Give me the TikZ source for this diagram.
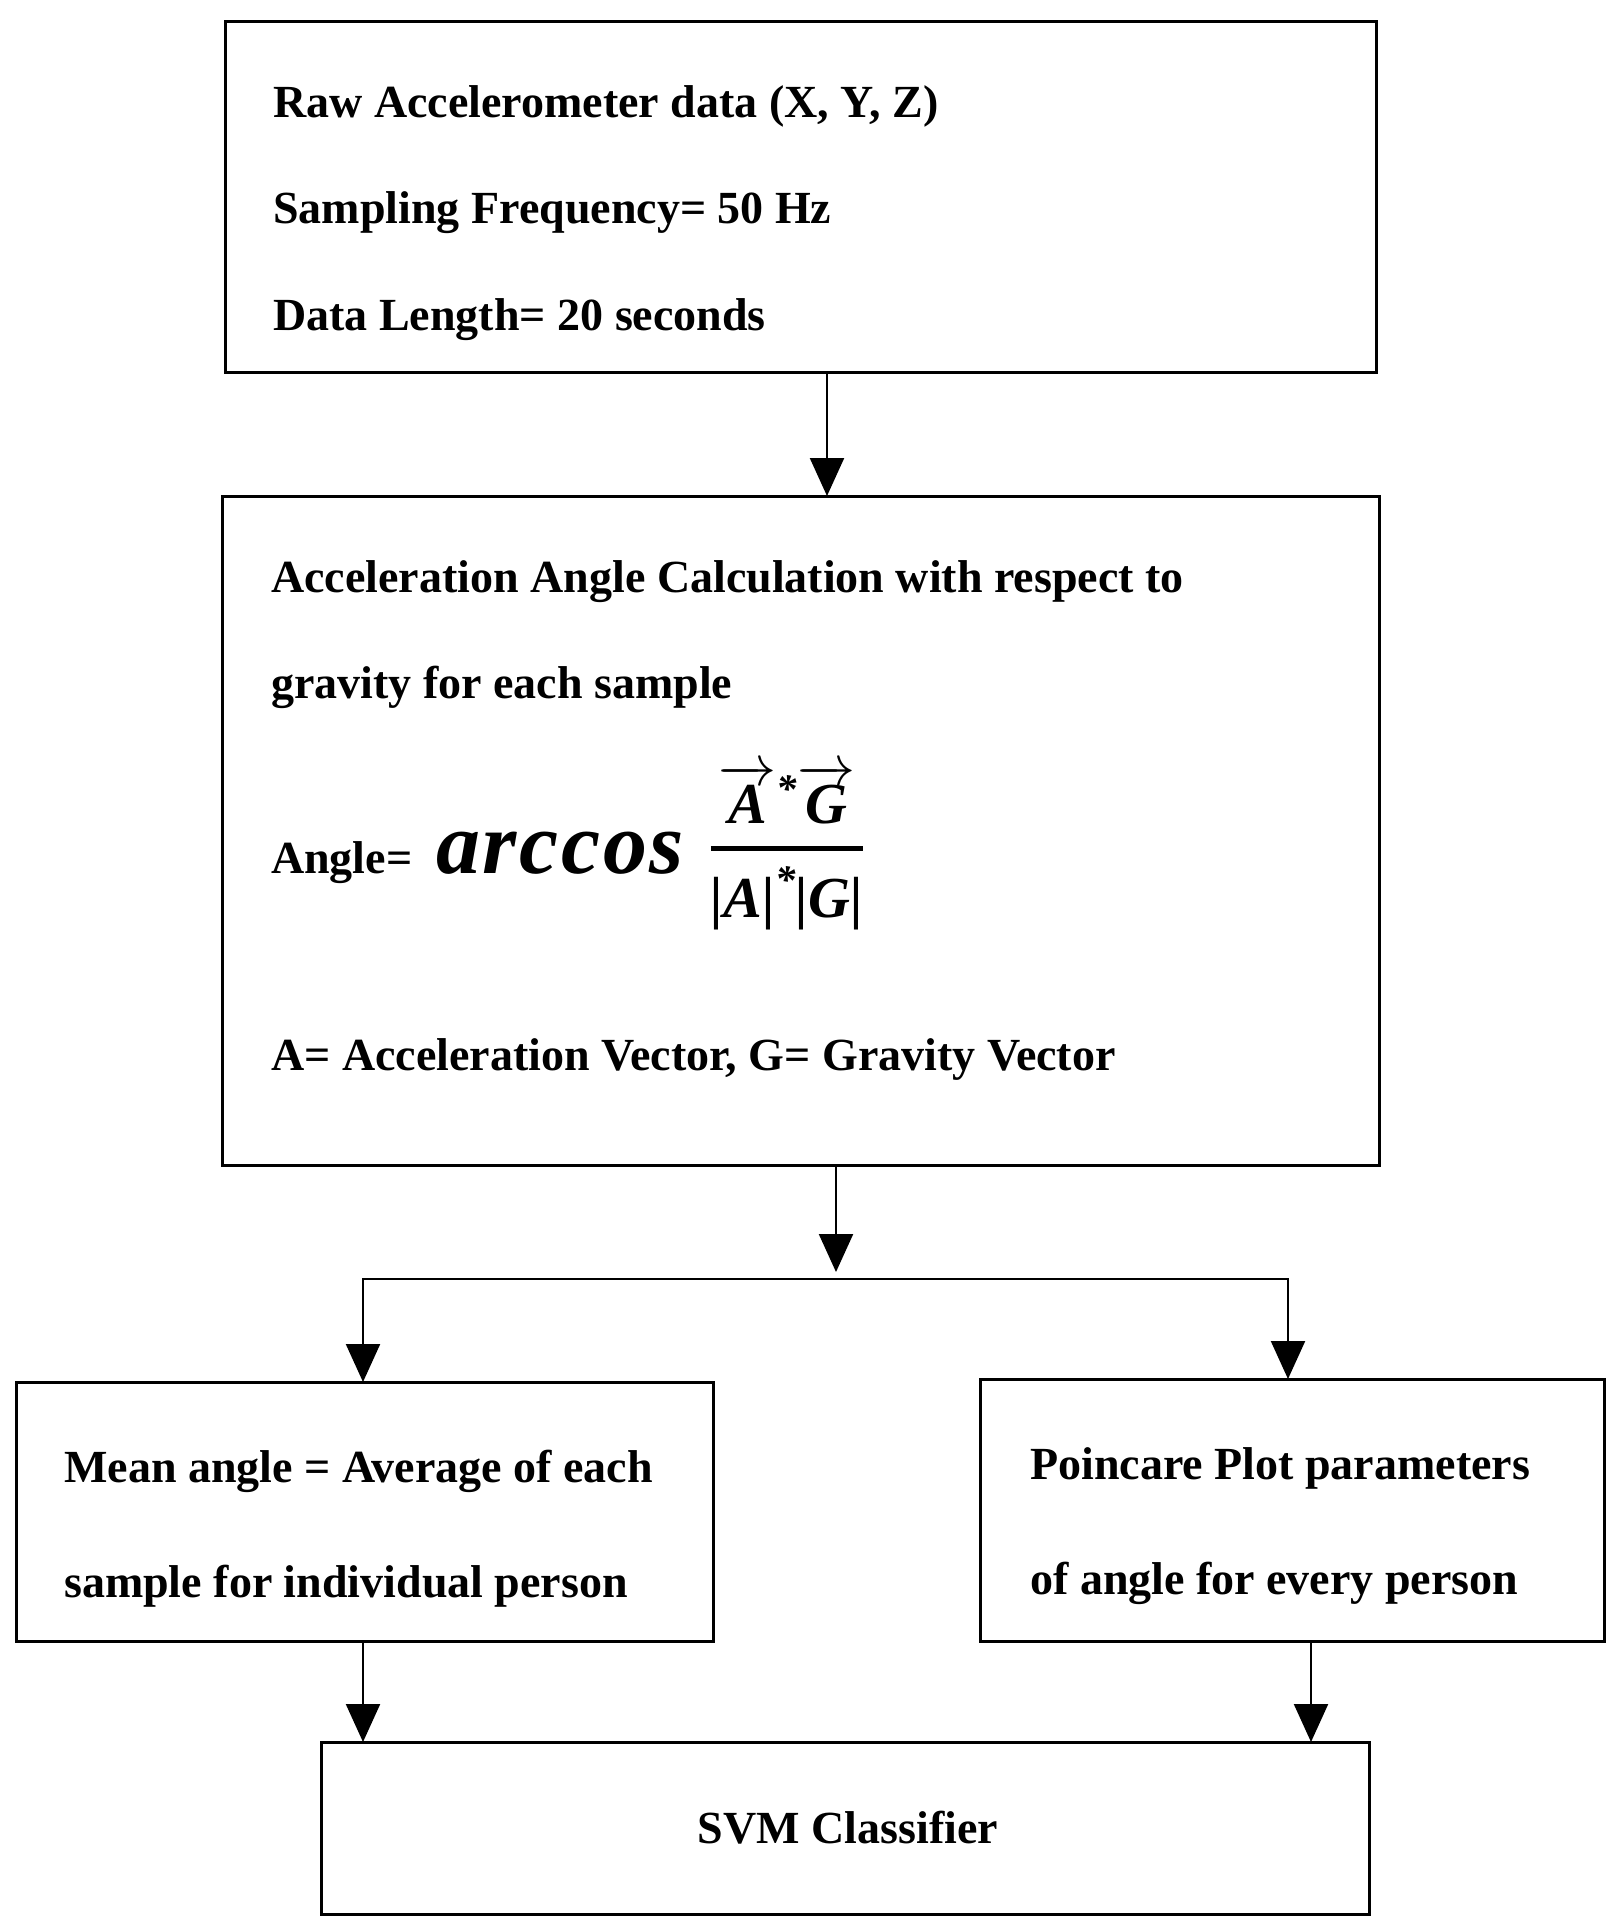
\RequirePackage{fix-cm}
\documentclass[tikz,border=0pt]{standalone}
\usepackage{amsmath}
\usepackage{fontspec}
\setmainfont{Liberation Serif}
\usetikzlibrary{arrows.meta}
\tikzset{
  box/.style={draw=black, line width=3pt, fill=none, inner sep=0pt, outer sep=0pt, anchor=north west},
  txt/.style={font=\fontsize{46}{55}\selectfont\bfseries, inner sep=0pt, anchor=base west},
  tip/.style={Triangle[length=38pt,width=34pt]},
  arr/.style={line width=2.2pt, -{Triangle[length=38pt,width=34pt]}},
  twoarr/.style={line width=2.2pt, {Triangle[length=38pt,width=34pt]}-{Triangle[length=38pt,width=34pt]}}
}
\begin{document}
\begin{tikzpicture}[x=1pt,y=-1pt]
\useasboundingbox[fill=white] (0,0) rectangle (1622,1929);
% boxes
\node[box, minimum width=1151pt, minimum height=350pt] (b1) at (225,22) {};
\node[box, minimum width=1157pt, minimum height=669pt] (b2) at (222,496) {};
\node[box, minimum width=697pt, minimum height=259pt] (b3) at (16,1382) {};
\node[box, minimum width=624pt, minimum height=262pt] (b4) at (980,1379) {};
\node[box, minimum width=1048pt, minimum height=172pt] (b5) at (321,1742) {};
% texts box 1
\node[txt] (t1a) at (273,118) {Raw Accelerometer data (X, Y, Z)};
\node[txt] (t1b) at (273,223) {Sampling Frequency= 50 Hz};
\node[txt] (t1c) at (273,330) {Data Length= 20 seconds};
% texts box 2
\node[txt] (t2a) at (271,592) {Acceleration Angle Calculation with respect to};
\node[txt] (t2b) at (271,698) {gravity for each sample};
\node[txt] (t2c) at (271,873) {Angle=};
\node[inner sep=0pt, anchor=base west, font=\fontsize{88}{90}\selectfont\bfseries\itshape\addfontfeature{LetterSpace=3}] (t2arc) at (436,873) {arccos};
\node[inner sep=0pt, anchor=base, font=\fontsize{58}{64}\selectfont\bfseries\itshape] (t2frac) at (787,863) {$\genfrac{}{}{5pt}{0}{\overrightarrow{\text{A}}^{\text{*}}\overrightarrow{\text{G}}}{\text{|A|}^{\text{*}}\text{|G|}}$};
\node[txt] (t2d) at (271,1070) {A= Acceleration Vector, G= Gravity Vector};
% texts lower boxes
\node[txt] (t3a) at (64,1482) {Mean angle = Average of each};
\node[txt] (t3b) at (64,1597) {sample for individual person};
\node[txt] (t4a) at (1030,1479) {Poincare Plot parameters};
\node[txt] (t4b) at (1030,1594) {of angle for every person};
\node[txt, anchor=base] (t5) at (848,1843) {SVM Classifier};
% connectors
\coordinate (c1) at (827,400);
\coordinate (split) at (836,1272);
\coordinate (bl) at (363,1279);
\coordinate (br) at (1288,1279);
\coordinate (c4) at (1311,1700);
\draw[arr] (c1 |- b1.south) -- (c1 |- b2.north);
\draw[arr] (split |- b2.south) -- (split);
\draw[twoarr] (bl |- b3.north) -- (bl) -- (br) -- (br |- b4.north);
\draw[arr] (bl |- b3.south) -- (bl |- b5.north);
\draw[arr] (c4 |- b4.south) -- (c4 |- b5.north);
\end{tikzpicture}
\end{document}
